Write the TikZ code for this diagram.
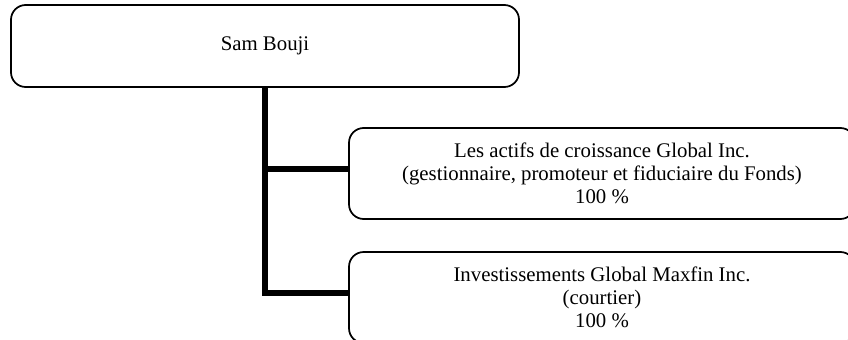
\documentclass[tikz,border=0pt]{standalone}
\usepackage{fontspec}
\setmainfont{Liberation Serif}
\usetikzlibrary{positioning}

\begin{document}
\begin{tikzpicture}[
      x=0.75pt, y=-0.75pt,
      box/.style={draw, line width=1.3pt, rounded corners=11pt, align=center,
                  font=\fontsize{15.6}{17.4}\selectfont, inner sep=0pt},
      topbox/.style={box, minimum width=381pt, minimum height=61.5pt},
      subbox/.style={box, minimum width=379.5pt, minimum height=68.25pt},
      link/.style={line width=4.5pt}]
    \useasboundingbox (0,0) rectangle (848,339);
    \clip (0,0) rectangle (848,339);
    \node[topbox] (owner) at (265,46) {Sam Bouji};
    \node[subbox] (gest) at (602,173.5)
      {Les actifs de croissance Global Inc.\\(gestionnaire, promoteur et fiduciaire du Fonds)\\100~\%};
    \node[subbox] (court) at (602,297.5)
      {Investissements Global Maxfin Inc.\\(courtier)\\100~\%};
    % connector ends sit a little above the box middles
    \coordinate (gestin) at ([yshift=3.4pt]gest.west);
    \coordinate (courtin) at ([yshift=3.4pt]court.west);
    \draw[link] (owner.south) |- (courtin);
    \draw[link] (owner.south |- gestin) -- (gestin);
  \end{tikzpicture}
\end{document}
